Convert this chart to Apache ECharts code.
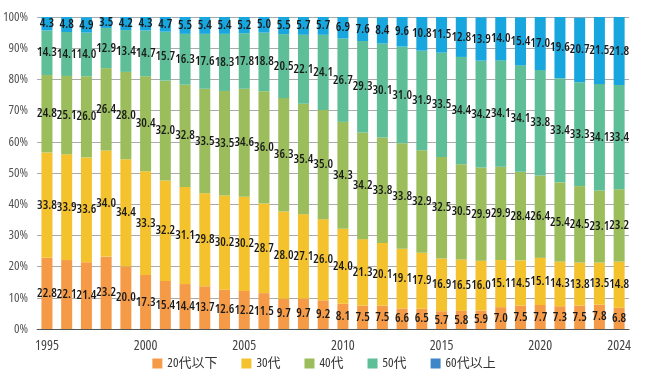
<!DOCTYPE html>
<html><head><meta charset="utf-8">
<script src="https://cdn.jsdelivr.net/npm/echarts@6/dist/echarts.min.js"></script>
<style>html,body{margin:0;padding:0;background:#fff}#c{width:648px;height:381px}</style>
</head><body><div id="c"></div>
<script>
const years = ['1995','1996','1997','1998','1999','2000','2001','2002','2003','2004','2005','2006','2007','2008','2009','2010','2011','2012','2013','2014','2015','2016','2017','2018','2019','2020','2021','2022','2023','2024'];
const shownYears = ['1995','2000','2005','2010','2015','2020','2024'];
const age20 = [22.8,22.1,21.4,23.2,20.0,17.3,15.4,14.4,13.7,12.6,12.2,11.5,9.7,9.7,9.2,8.1,7.5,7.5,6.6,6.5,5.7,5.8,5.9,7.0,7.5,7.7,7.3,7.5,7.8,6.8];
const age30 = [33.8,33.9,33.6,34.0,34.4,33.3,32.2,31.1,29.8,30.2,30.2,28.7,28.0,27.1,26.0,24.0,21.3,20.1,19.1,17.9,16.9,16.5,16.0,15.1,14.5,15.1,14.3,13.8,13.5,14.8];
const age40 = [24.8,25.1,26.0,26.4,28.0,30.4,32.0,32.8,33.5,33.5,34.6,36.0,36.3,35.4,35.0,34.3,34.2,33.8,33.8,32.9,32.5,30.5,29.9,29.9,28.4,26.4,25.4,24.5,23.1,23.2];
const age50 = [14.3,14.1,14.0,12.9,13.4,14.7,15.7,16.3,17.6,18.3,17.8,18.8,20.5,22.1,24.1,26.7,29.3,30.1,31.0,31.9,33.5,34.4,34.2,34.1,34.1,33.8,33.4,33.3,34.1,33.4];
const age60 = [4.3,4.8,4.9,3.5,4.2,4.3,4.7,5.5,5.4,5.4,5.2,5.0,5.5,5.7,5.7,6.9,7.6,8.4,9.6,10.8,11.5,12.8,13.9,14.0,15.4,17.0,19.6,20.7,21.5,21.8];
const names = ['20代以下','30代','40代','50代','60代以上'];
const barColors = ['#F59A47','#F4C22D','#9BBD5B','#5DBE98','#18A6DF'];
const legendColors = ['#F59A47','#F4C22D','#9BBD5B','#5DBE98','#3D86C8'];
const seriesData = [age20, age30, age40, age50, age60];

const FONT = "'Open Sans','Noto Sans CJK JP',sans-serif";
const chart = echarts.init(document.getElementById('c'));
chart.setOption({
  animation: false,
  grid: {left: 37, right: 19, top: 17, bottom: 52},
  legend: {
    bottom: 6, left: 'center', itemWidth: 10, itemHeight: 10, itemGap: 24,
    textStyle: {fontFamily: FONT, fontStyle: 'condensed', fontSize: 13, color: '#333'},
    data: names.map((n,i)=>({name:n, icon:'rect', itemStyle:{color:legendColors[i]}}))
  },
  xAxis: {
    type: 'category', data: years,
    axisTick: {show: false},
    axisLine: {lineStyle: {color: '#555', width: 1}},
    axisLabel: {
      interval: 0, margin: 10,
      formatter: v => shownYears.includes(v) ? v : '',
      fontFamily: FONT, fontStyle: 'condensed', fontSize: 14, color: '#444'
    }
  },
  yAxis: {
    type: 'value', min: 0, max: 100, interval: 10,
    axisLabel: {formatter: '{value}%', fontFamily: FONT, fontStyle: 'condensed', fontSize: 13, color: '#555', margin: 9},
    splitLine: {lineStyle: {color: '#aaa', width: 1}},
    axisLine: {show: false}, axisTick: {show: false}
  },
  series: seriesData.map((d,i)=>({
    name: names[i], type: 'bar', stack: 'total', data: d,
    barWidth: 11,
    itemStyle: {color: barColors[i]},
    label: {show: true, position: 'inside', formatter: p => p.value.toFixed(1),
      fontFamily: FONT, fontStyle: 'condensed', fontWeight: 600, fontSize: 12.5, color: '#1a1a1a'}
  }))
});
</script></body></html>
